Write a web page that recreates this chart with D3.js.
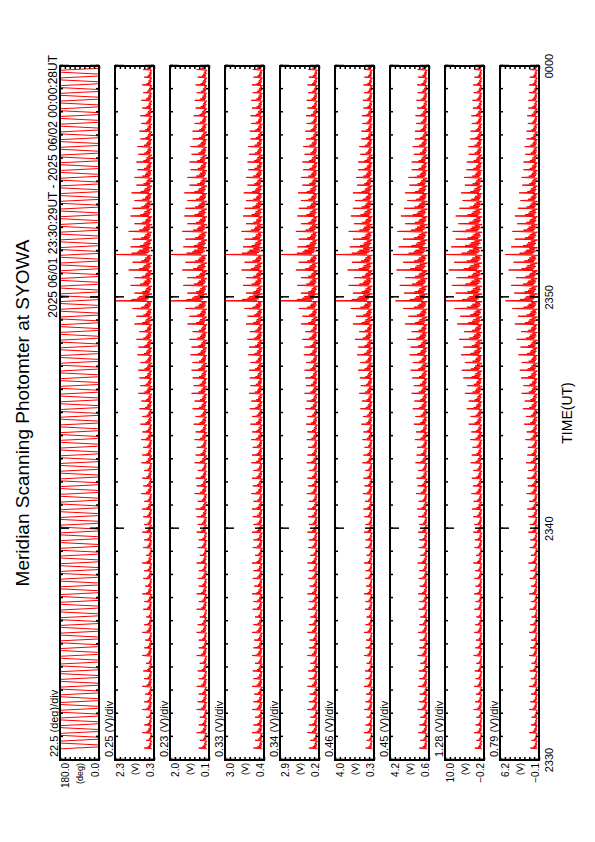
<!DOCTYPE html>
<html>
<head>
<meta charset="utf-8">
<script src="https://cdn.jsdelivr.net/npm/d3@7"></script>
<style>
  body { margin: 0; background: #fff; }
  text { font-family: "Liberation Sans", Arial, sans-serif; fill: #000; }
</style>
</head>
<body>
<script>
// panels: 0 = scan angle, 1..8 = photometer channels
var TITLE = "Meridian Scanning Photomter at SYOWA";
var PERIOD = "2025 06/01 23:30:29UT - 2025 06/02 00:00:28UT";
var TIME_TICKS = [0, 600, 1200, 1800]; // seconds from 23:30:00
var TIME_LABELS = ["2330", "2340", "2350", "0000"];
var Y_TOP = [180.0, 2.3, 2.0, 3.0, 2.9, 4.0, 4.2, 10.0, 6.2];
var Y_BOT = [0.0, 0.3, 0.1, 0.4, 0.2, 0.3, 0.6, -0.2, -0.1];
var Y_UNIT = ["(deg)", "(V)", "(V)", "(V)", "(V)", "(V)", "(V)", "(V)", "(V)"];
var DIV_LABELS = ["22.5 (deg)/div", "0.25 (V)/div", "0.23 (V)/div", "0.33 (V)/div",
  "0.34 (V)/div", "0.46 (V)/div", "0.45 (V)/div", "1.28 (V)/div", "0.79 (V)/div"];

var SCAN_START = 29, SCAN_STEP = 20, SCAN_COUNT = 90; // one meridian scan every 20 s
// one scan read off panel 1: [seconds into scan, mirror angle]
var SCAN_TURNS = [[0, 180], [5, 0], [10, 0], [15, 180]];

// baseline and per-scan peak of each channel (V)
var BASE = [null, 0.4, 0.2, 0.5, 0.3, 0.45, 0.75, 0.3, 0.15];
var CH1 = [0.8,0.7,0.9,0.8,0.7,0.9,0.8,0.75,0.9,0.8, 0.85,0.7,0.9,0.8,0.75,0.9,0.8,0.7,0.85,0.8,
  0.9,0.75,0.85,0.8,0.9,0.7,0.85,0.8,0.9,0.8, 0.85,0.9,0.8,0.95,0.85,0.9,0.8,0.95,0.9,0.85,
  0.95,0.9,1.0,0.9,1.05,0.95,1.1,1.0,1.05,1.1, 1.0,1.15,1.1,1.2,1.05,1.3,1.2,1.4,2.3,1.3,
  1.5,1.3,1.6,1.4,2.3,1.5,1.4,1.6,1.3,1.5, 1.4,1.3,1.45,1.2,1.3,1.15,1.2,1.1,1.15,1.0,
  1.05,0.95,1.0,0.9,0.95,0.85,0.9,0.8,0.85,0.8];
var CH2 = [0.6,0.55,0.7,0.6,0.55,0.7,0.65,0.6,0.7,0.6, 0.65,0.55,0.7,0.6,0.6,0.7,0.65,0.55,0.7,0.6,
  0.7,0.6,0.65,0.6,0.7,0.55,0.65,0.6,0.7,0.65, 0.7,0.75,0.65,0.8,0.7,0.75,0.65,0.8,0.75,0.7,
  0.8,0.75,0.85,0.75,0.9,0.8,0.95,0.85,0.9,0.95, 0.9,1.0,0.95,1.05,0.9,1.15,1.05,1.25,2.0,1.15,
  1.35,1.15,1.4,1.25,2.0,1.35,1.25,1.4,1.15,1.3, 1.25,1.15,1.3,1.05,1.15,1.0,1.05,0.95,1.0,0.9,
  0.9,0.8,0.85,0.75,0.8,0.7,0.75,0.65,0.7,0.65];
var CH3 = [1.1,1.0,1.2,1.1,1.0,1.2,1.1,1.05,1.2,1.1, 1.15,1.0,1.2,1.1,1.05,1.2,1.1,1.0,1.15,1.1,
  1.2,1.05,1.15,1.1,1.2,1.0,1.15,1.1,1.2,1.1, 1.15,1.2,1.1,1.25,1.15,1.2,1.1,1.25,1.2,1.15,
  1.25,1.2,1.3,1.2,1.35,1.25,1.4,1.3,1.35,1.4, 1.3,1.45,1.4,1.5,1.35,1.6,1.5,1.7,3.0,1.6,
  1.8,1.6,1.9,1.7,3.0,1.8,1.7,1.9,1.6,1.8, 1.7,1.6,1.75,1.5,1.6,1.45,1.5,1.4,1.45,1.3,
  1.35,1.25,1.3,1.2,1.25,1.15,1.2,1.1,1.15,1.1];
var CH4 = [0.9,0.8,1.0,0.9,0.8,1.0,0.9,0.85,1.0,0.9, 0.95,0.8,1.0,0.9,0.85,1.0,0.9,0.8,0.95,0.9,
  1.0,0.85,0.95,0.9,1.0,0.8,0.95,0.9,1.0,0.9, 0.95,1.0,0.9,1.05,0.95,1.0,0.9,1.05,1.0,0.95,
  1.05,1.0,1.1,1.0,1.15,1.05,1.2,1.1,1.15,1.2, 1.1,1.25,1.2,1.35,1.15,1.45,1.35,1.6,2.9,1.45,
  1.7,1.45,1.8,1.6,2.9,1.7,1.6,1.8,1.45,1.7, 1.6,1.45,1.65,1.35,1.45,1.3,1.35,1.2,1.3,1.1,
  1.15,1.05,1.1,1.0,1.05,0.95,1.0,0.9,0.95,0.9];
var CH5 = [1.1,1.0,1.25,1.1,1.0,1.25,1.1,1.05,1.25,1.1, 1.15,1.0,1.25,1.1,1.05,1.25,1.1,1.0,1.15,1.1,
  1.25,1.05,1.15,1.1,1.25,1.0,1.15,1.1,1.25,1.1, 1.2,1.3,1.15,1.35,1.2,1.3,1.15,1.4,1.3,1.2,
  1.4,1.3,1.5,1.35,1.6,1.45,1.7,1.55,1.65,1.8, 1.6,1.9,1.8,2.1,1.7,2.3,2.0,2.5,4.0,2.3,
  2.7,2.2,2.8,2.4,4.0,2.6,2.3,2.7,2.2,2.5, 2.3,2.1,2.3,1.9,2.0,1.8,1.8,1.6,1.7,1.5,
  1.5,1.4,1.45,1.3,1.35,1.25,1.3,1.2,1.25,1.2];
var CH6 = [1.5,1.4,1.6,1.5,1.4,1.65,1.5,1.45,1.6,1.5, 1.55,1.4,1.65,1.5,1.45,1.6,1.5,1.4,1.55,1.5,
  1.6,1.45,1.55,1.5,1.65,1.4,1.55,1.5,1.6,1.5, 1.6,1.7,1.55,1.8,1.65,1.75,1.6,1.85,1.75,1.7,
  1.9,1.8,2.0,1.85,2.1,1.95,2.2,2.0,2.15,2.3, 2.1,2.4,2.3,2.6,2.2,2.8,2.5,3.0,3.7,2.9,
  3.3,2.8,3.6,3.0,3.9,3.4,3.0,3.5,2.8,3.2, 2.9,2.6,2.8,2.4,2.5,2.2,2.2,2.0,2.1,1.9,
  1.9,1.8,1.85,1.7,1.75,1.65,1.7,1.6,1.65,1.6];
var CH7 = [2.2,1.8,2.4,2.0,1.8,2.5,2.1,1.9,2.4,2.0, 2.2,1.8,2.5,2.1,1.9,2.4,2.1,1.8,2.3,2.0,
  2.4,2.0,2.3,2.1,2.6,1.9,2.3,2.2,2.6,2.3, 2.6,2.9,2.5,3.1,2.7,3.0,2.6,3.3,3.0,2.8,
  3.4,3.1,3.8,3.3,4.3,3.8,4.8,4.2,5.2,5.6, 4.8,5.8,5.2,6.3,5.0,6.8,6.0,7.5,9.8,7.2,
  8.2,7.0,9.0,7.6,10.0,8.4,7.2,8.0,6.5,7.2, 6.2,5.4,5.8,4.8,5.0,4.4,4.3,3.8,3.9,3.4,
  3.3,3.0,3.1,2.7,2.8,2.5,2.6,2.3,2.4,2.2];
var CH8 = [1.3,1.1,1.5,1.2,1.1,1.5,1.3,1.2,1.5,1.2, 1.4,1.1,1.5,1.3,1.2,1.5,1.3,1.1,1.4,1.2,
  1.5,1.2,1.4,1.3,1.6,1.2,1.4,1.3,1.6,1.4, 1.6,1.8,1.5,1.9,1.7,1.8,1.6,2.0,1.8,1.7,
  2.1,1.9,2.3,2.0,2.5,2.2,2.7,2.4,2.8,3.0, 2.7,3.2,2.9,3.5,2.8,3.8,3.3,4.2,5.3,3.9,
  4.4,3.6,4.8,4.0,5.4,4.4,3.8,4.2,3.4,3.8, 3.3,2.9,3.1,2.6,2.7,2.4,2.4,2.1,2.2,1.9,
  1.9,1.7,1.8,1.6,1.6,1.5,1.5,1.4,1.4,1.3];
var PEAKS = [null, CH1, CH2, CH3, CH4, CH5, CH6, CH7, CH8];
// shape of one scan's trace: [seconds into scan, share of the peak]
var SCAN_SHAPE = [[0, 0], [2, 1], [3.5, 0.15], [5.5, 0.55], [7, 0.1], [9, 0.4], [11, 0.05],
  [13, 0.35], [15, 0.08], [17, 0.25], [19, 0.02]];

var PANEL_Y0 = 60, PANEL_STEP = 55, PANEL_H = 39;

var svg = d3.select("body").append("svg")
  .attr("width", 595).attr("height", 842);
// the chart is laid out in an 842 x 595 landscape frame and turned onto the page
var g = svg.append("g").attr("transform", "translate(0,842) rotate(-90)");

var x = d3.scaleLinear().domain([0, 1800]).range([82, 776]);

g.append("text").attr("x", 429).attr("y", 29).attr("text-anchor", "middle")
  .style("font-size", "19px").text(TITLE);
g.append("text").attr("x", 787).attr("y", 57).attr("text-anchor", "end")
  .style("font-size", "12px").text(PERIOD);

var minorTicks = d3.range(0, 1801, 60);

Y_TOP.forEach(function(top, i) {
  var y0 = PANEL_Y0 + i * PANEL_STEP;
  var y = d3.scaleLinear().domain([Y_BOT[i], top]).range([y0 + PANEL_H, y0]);
  var p = g.append("g");

  p.append("clipPath").attr("id", "clip" + i).append("rect")
    .attr("x", 82).attr("y", y0).attr("width", 694).attr("height", PANEL_H);

  var pts = [];
  d3.range(SCAN_COUNT).forEach(function(k) {
    var t = SCAN_START + k * SCAN_STEP;
    if (i === 0) {
      SCAN_TURNS.forEach(function(s) { pts.push([t + s[0], s[1]]); });
    } else {
      var b = BASE[i], v = PEAKS[i][k];
      SCAN_SHAPE.forEach(function(s) { pts.push([t + s[0], b + (v - b) * s[1]]); });
    }
  });
  var line = d3.line().x(function(d) { return x(d[0]); }).y(function(d) { return y(d[1]); });
  p.append("path").datum(pts).attr("d", line)
    .attr("clip-path", "url(#clip" + i + ")")
    .attr("fill", "none").attr("stroke", "#f00").attr("stroke-width", 1);

  // time ticks, inward on both edges
  [[d3.axisTop, y0 + PANEL_H], [d3.axisBottom, y0]].forEach(function(a) {
    p.append("g").attr("transform", "translate(0," + a[1] + ")")
      .call(a[0](x).tickValues(minorTicks).tickSize(3).tickFormat(""));
    p.append("g").attr("transform", "translate(0," + a[1] + ")")
      .call(a[0](x).tickValues(TIME_TICKS).tickSize(9).tickFormat(""));
  });
  // y ticks: 8 divisions
  var yt = d3.range(9).map(function(j) { return Y_BOT[i] + j * (top - Y_BOT[i]) / 8; });
  p.append("g").attr("transform", "translate(82,0)")
    .call(d3.axisRight(y).tickValues(yt).tickSize(3).tickFormat(""));
  p.append("g").attr("transform", "translate(776,0)")
    .call(d3.axisLeft(y).tickValues(yt).tickSize(3).tickFormat(""));
  p.selectAll(".domain").remove();
  p.selectAll(".tick line").attr("stroke", "#000").attr("stroke-width", 1.5);

  p.append("rect").attr("x", 82).attr("y", y0).attr("width", 694).attr("height", PANEL_H)
    .attr("fill", "none").attr("stroke", "#000").attr("stroke-width", 2);

  p.append("text").attr("x", 85).attr("y", y0 - 2).style("font-size", "11px").text(DIV_LABELS[i]);
  p.append("text").attr("x", 79).attr("y", y0 + 9).attr("text-anchor", "end")
    .style("font-size", "10px").text(d3.format(".1f")(top));
  p.append("text").attr("x", 79).attr("y", y0 + PANEL_H / 2 + 3).attr("text-anchor", "end")
    .style("font-size", "9px").text(Y_UNIT[i]);
  p.append("text").attr("x", 79).attr("y", y0 + PANEL_H).attr("text-anchor", "end")
    .style("font-size", "10px").text(d3.format(".1f")(Y_BOT[i]));
});

var yLast = PANEL_Y0 + 8 * PANEL_STEP + PANEL_H;
TIME_TICKS.forEach(function(t, j) {
  g.append("text").attr("x", x(t)).attr("y", yLast + 14).attr("text-anchor", "middle")
    .style("font-size", "11px").text(TIME_LABELS[j]);
});
g.append("text").attr("x", 429).attr("y", yLast + 33).attr("text-anchor", "middle")
  .style("font-size", "14px").text("TIME(UT)");
</script>
</body>
</html>
